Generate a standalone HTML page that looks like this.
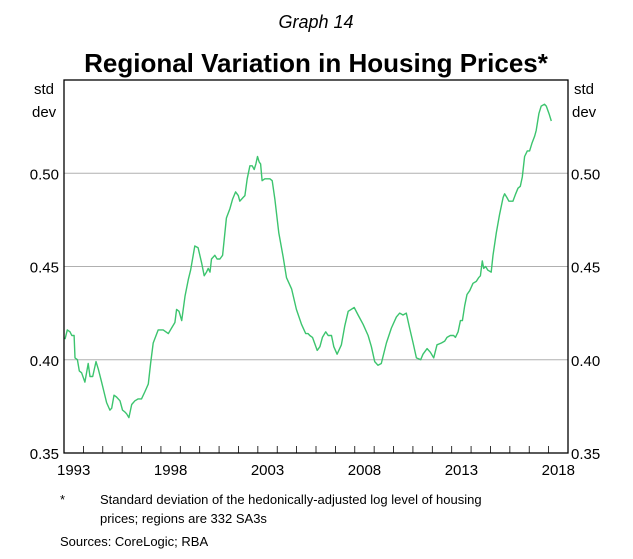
<!DOCTYPE html>
<html><head><meta charset="utf-8"><style>
body{margin:0;background:#fff;font-family:"Liberation Sans",Arial,sans-serif;}
svg text{font-family:"Liberation Sans",Arial,sans-serif;}
</style></head><body>
<svg id="chart" width="633" height="554" viewBox="0 0 633 554" xmlns="http://www.w3.org/2000/svg">
<text x="316" y="28" text-anchor="middle" font-size="18" font-style="italic">Graph 14</text>
<text x="316" y="72" text-anchor="middle" font-size="26" font-weight="bold">Regional Variation in Housing Prices*</text>
<text x="34" y="94" font-size="15">std</text>
<text x="32" y="117" font-size="15">dev</text>
<text x="574" y="94" font-size="15">std</text>
<text x="572" y="117" font-size="15">dev</text>
<g id="grid"></g><g id="ticks"></g><g id="labels"></g>
<path id="line" fill="none" stroke="#3cc46e" stroke-width="1.4" stroke-linejoin="round"/>
<rect x="64" y="80" width="504" height="373" fill="none" stroke="#000" stroke-width="1.3"/>
<text x="60" y="504" font-size="13">*</text>
<text x="100" y="504" font-size="13">Standard deviation of the hedonically-adjusted log level of housing</text>
<text x="100" y="523" font-size="13">prices; regions are 332 SA3s</text>
<text x="60" y="546" font-size="13">Sources:   CoreLogic; RBA</text>
</svg>
<script>
const years=[1993.05,1993.17,1993.31,1993.40,1993.52,1993.57,1993.69,1993.79,1993.91,1994.08,1994.25,1994.34,1994.48,1994.65,1994.77,1994.94,1995.06,1995.20,1995.37,1995.46,1995.58,1995.71,1995.89,1996.02,1996.14,1996.23,1996.35,1996.49,1996.66,1996.83,1997.00,1997.18,1997.35,1997.47,1997.60,1997.86,1998.12,1998.38,1998.55,1998.72,1998.81,1998.93,1999.07,1999.24,1999.41,1999.53,1999.75,1999.92,2000.10,2000.23,2000.35,2000.44,2000.53,2000.61,2000.78,2000.90,2001.04,2001.18,2001.38,2001.56,2001.69,2001.85,2001.99,2002.07,2002.24,2002.33,2002.45,2002.59,2002.71,2002.81,2002.90,2002.98,2003.07,2003.14,2003.22,2003.36,2003.62,2003.74,2003.88,2004.08,2004.31,2004.48,2004.74,2004.99,2005.25,2005.47,2005.59,2005.68,2005.82,2006.06,2006.20,2006.33,2006.50,2006.63,2006.80,2006.92,2007.09,2007.31,2007.48,2007.66,2007.97,2008.17,2008.43,2008.69,2008.86,2009.03,2009.20,2009.37,2009.63,2009.89,2010.15,2010.32,2010.49,2010.66,2010.83,2011.01,2011.18,2011.40,2011.52,2011.73,2011.90,2012.07,2012.24,2012.47,2012.64,2012.76,2012.93,2013.10,2013.19,2013.33,2013.45,2013.55,2013.67,2013.79,2013.93,2014.10,2014.27,2014.39,2014.48,2014.58,2014.65,2014.75,2014.87,2015.04,2015.13,2015.30,2015.47,2015.65,2015.73,2015.85,2015.95,2016.16,2016.30,2016.42,2016.54,2016.64,2016.76,2016.90,2017.02,2017.14,2017.28,2017.36,2017.50,2017.62,2017.79,2017.88,2018.02,2018.14];
const values=[0.411,0.416,0.415,0.413,0.413,0.401,0.400,0.394,0.393,0.388,0.398,0.391,0.391,0.399,0.395,0.388,0.383,0.377,0.373,0.374,0.381,0.380,0.378,0.373,0.372,0.371,0.369,0.376,0.378,0.379,0.379,0.383,0.387,0.398,0.409,0.416,0.416,0.414,0.417,0.420,0.427,0.426,0.421,0.434,0.443,0.448,0.461,0.460,0.452,0.445,0.447,0.449,0.447,0.454,0.456,0.454,0.454,0.456,0.476,0.481,0.486,0.490,0.488,0.485,0.487,0.488,0.497,0.504,0.504,0.502,0.505,0.509,0.506,0.505,0.496,0.497,0.497,0.496,0.486,0.468,0.455,0.444,0.438,0.427,0.419,0.414,0.414,0.413,0.412,0.405,0.407,0.412,0.415,0.413,0.413,0.407,0.403,0.408,0.418,0.426,0.428,0.424,0.419,0.413,0.407,0.399,0.397,0.398,0.409,0.417,0.423,0.425,0.424,0.425,0.417,0.409,0.401,0.400,0.403,0.406,0.404,0.401,0.408,0.409,0.410,0.412,0.413,0.413,0.412,0.415,0.421,0.421,0.429,0.435,0.437,0.441,0.442,0.444,0.445,0.453,0.449,0.450,0.448,0.447,0.456,0.468,0.478,0.487,0.489,0.487,0.485,0.485,0.489,0.492,0.493,0.498,0.509,0.512,0.512,0.516,0.520,0.523,0.532,0.536,0.537,0.536,0.532,0.528];
const yTicks=[0.35,0.40,0.45,0.50];
const yTickLabels=["0.35","0.40","0.45","0.50"];
const xLabelYears=[1993,1998,2003,2008,2013,2018];
const X0=64,X1=568,Y0=453,Y1=80,YMIN=0.35,YMAX=0.55,TMIN=1993,TMAX=2019;
const xs=t=>X0+(t-TMIN)/(TMAX-TMIN)*(X1-X0);
const ys=v=>Y0-(v-YMIN)/(YMAX-YMIN)*(Y0-Y1);
const NS="http://www.w3.org/2000/svg";
function mk(tag,parent){const e=document.createElementNS(NS,tag);document.getElementById(parent).appendChild(e);return e;}
yTicks.forEach((v,i)=>{
 if(v>YMIN){const g=mk('line','grid');
 
 
 g.setAttribute('x1',X0);g.setAttribute('x2',X1);g.setAttribute('y1',ys(v));g.setAttribute('y2',ys(v));g.setAttribute('stroke','#b0b0b0');g.setAttribute('stroke-width','1');}
 [[X0-5,'end'],[X1+3,'start']].forEach(([x,a])=>{const t=mk('text','labels');
 
 
 t.setAttribute('x',x);t.setAttribute('y',ys(v)+6);t.setAttribute('text-anchor',a);t.setAttribute('font-size','15');t.textContent=yTickLabels[i];});
});
for(let y=TMIN+1;y<TMAX;y++){const l=mk('line','ticks');
 
 
 l.setAttribute('x1',xs(y));l.setAttribute('x2',xs(y));l.setAttribute('y1',Y0);l.setAttribute('y2',Y0-7);l.setAttribute('stroke','#000');l.setAttribute('stroke-width','0.8');}
xLabelYears.forEach(y=>{const t=mk('text','labels');
 
 
 t.setAttribute('x',xs(y+0.5));t.setAttribute('y',475);t.setAttribute('text-anchor','middle');t.setAttribute('font-size','15');t.textContent=y;});
document.getElementById('line').setAttribute('d',years.map((t,i)=>(i?'L':'M')+xs(t).toFixed(1)+' '+ys(values[i]).toFixed(1)).join(''));
</script>
</body></html>
